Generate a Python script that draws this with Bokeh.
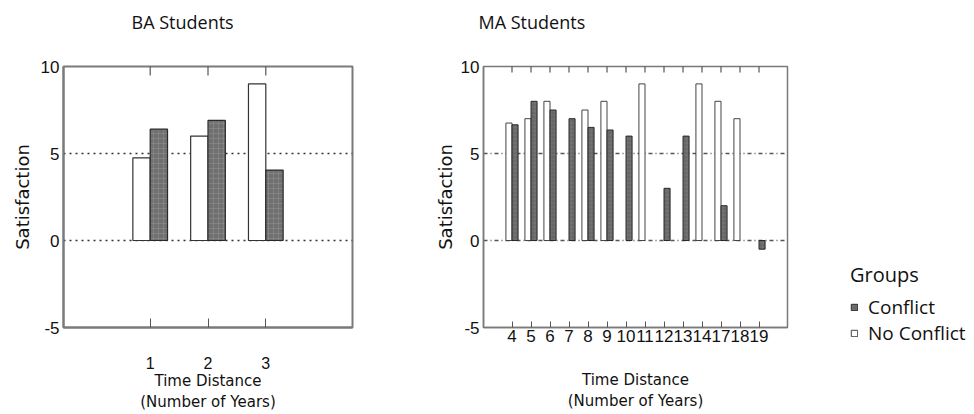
import math
from bokeh.plotting import figure
from bokeh.layouts import row, column
from bokeh.models import (ColumnDataSource, FactorRange, Range1d, FixedTicker,
                          CategoricalAxis, Legend, LegendItem, Spacer)
from bokeh.transform import dodge
from bokeh.embed import file_html
from bokeh.resources import INLINE

# ---------------- data ----------------
ba_years = ["1", "2", "3"]
ba_conflict = [6.4, 6.9, 4.05]
ba_no_conflict = [4.75, 6.0, 9.0]

ma_years = ["4", "5", "6", "7", "8", "9", "10", "11", "12", "13", "14", "17", "18", "19"]
ma_conflict = [6.65, 8.0, 7.5, 7.0, 6.5, 6.35, 6.0, None, 3.0, 6.0, None, 2.0, None, -0.5]
ma_no_conflict = [6.75, 7.0, 8.0, None, 7.5, 8.0, None, 9.0, None, None, 9.0, 8.0, 7.0, None]

y_ticks = [-5, 0, 5, 10]
grid_ticks = [0, 5]
x_title = "Time Distance\n(Number of Years)"
y_title = "Satisfaction"
groups = ["Conflict", "No Conflict"]

DARK = "#707070"
FRAME = "#7a7a7a"
TOP_BORDER = 66
BOTTOM_BORDER = 84


def source(cats, vals):
    xs = [c for c, v in zip(cats, vals) if v is not None]
    ys = [v for v in vals if v is not None]
    return ColumnDataSource(dict(x=xs, top=ys))


def style(p, cats, title_offset, tick_font, xstand, xlab_stand,
          ylab_stand, tick_len, grid_dash, grid_color, frame_w):
    p.title.text_font = "Open Sans"
    p.title.text_font_size = "18px"
    p.title.text_font_style = "normal"
    p.title.text_color = "#111111"
    p.title.align = "left"
    p.title.offset = title_offset
    p.title.standoff = 0
    p.outline_line_color = FRAME
    p.outline_line_width = frame_w
    p.xgrid.visible = False
    p.ygrid.ticker = FixedTicker(ticks=grid_ticks)
    p.ygrid.grid_line_color = grid_color
    p.ygrid.grid_line_dash = grid_dash
    p.ygrid.grid_line_width = 1.3
    p.yaxis.ticker = FixedTicker(ticks=y_ticks)
    p.yaxis.major_label_overrides = {t: str(t) for t in y_ticks}
    for ax in (p.xaxis[0], p.yaxis[0]):
        ax.axis_line_color = FRAME
        ax.axis_line_width = frame_w
        ax.major_label_text_font = "Liberation Sans"
        ax.major_label_text_color = "#111111"
        ax.axis_label_text_font = "DejaVu Sans"
        ax.axis_label_text_font_style = "normal"
        ax.axis_label_text_color = "#111111"
        ax.minor_tick_line_color = None
    p.yaxis.major_tick_out = 0
    p.yaxis.major_tick_in = 0
    p.yaxis.major_label_standoff = 4
    p.yaxis.major_label_text_font_size = "17px"
    p.yaxis.axis_label = y_title
    p.yaxis.axis_label_text_font_size = "18px"
    p.yaxis.axis_label_standoff = ylab_stand
    p.xaxis.major_tick_out = 0
    p.xaxis.major_tick_in = tick_len
    p.xaxis.major_tick_line_color = "#555555"
    p.xaxis.major_label_text_font_size = tick_font
    p.xaxis.major_label_standoff = xstand
    p.xaxis.axis_label = x_title
    p.xaxis.axis_label_text_font_size = "15px"
    p.xaxis.axis_label_text_line_height = 1.2
    p.xaxis.axis_label_standoff = xlab_stand
    # mirrored tick marks along the top edge of the frame
    p.scatter(x=cats, y=[y_ticks[-1]] * len(cats), marker="dash",
              angle=math.pi / 2, size=2 * tick_len,
              line_color="#555555", line_width=1.2)
    # undrawn top axis: only reserves a band between the title and the frame
    p.add_layout(CategoricalAxis(major_tick_out=33, major_tick_in=0,
                                 major_label_standoff=0,
                                 major_label_text_font_size="10px",
                                 major_label_text_color=None,
                                 axis_line_color=None, major_tick_line_color=None,
                                 minor_tick_line_color=None), "above")


# ---------------- BA panel ----------------
p1 = figure(x_range=FactorRange(factors=ba_years, range_padding=1.0,
                                range_padding_units="absolute"),
            y_range=Range1d(-5, 10), width=420, height=414,
            output_backend="svg", toolbar_location=None,
            min_border_left=63, min_border_right=68,
            min_border_top=TOP_BORDER, min_border_bottom=BOTTOM_BORDER,
            title="BA Students")
style(p1, ba_years, 68, "16px", 29, 0, 5, 9, "2 4", "#333333", 2)

ba_no_src = source(ba_years, ba_no_conflict)
ba_c_src = source(ba_years, ba_conflict)
p1.vbar(x=dodge("x", -0.15, range=p1.x_range), top="top", bottom=0, width=0.3,
        source=ba_no_src, fill_color="white", line_color="#333333", line_width=1.2)
p1.vbar(x=dodge("x", 0.15, range=p1.x_range), top="top", bottom=0, width=0.3,
        source=ba_c_src, fill_color=DARK, line_color="#2a2a2a", line_width=1.2,
        hatch_pattern="cross", hatch_color="#a0a0a0", hatch_alpha=0.6,
        hatch_scale=5, hatch_weight=0.6)

# ---------------- MA panel ----------------
p2 = figure(x_range=FactorRange(factors=ma_years, range_padding=1.0,
                                range_padding_units="absolute"),
            y_range=Range1d(-5, 10), width=377, height=414,
            output_backend="svg", toolbar_location=None,
            min_border_left=63, min_border_right=10,
            min_border_top=TOP_BORDER, min_border_bottom=BOTTOM_BORDER,
            title="MA Students")
style(p2, ma_years, -5, "17px", 2, 26, 2, 6, "4 3 1 3", "#555555", 1.5)

ma_no_src = source(ma_years, ma_no_conflict)
ma_c_src = source(ma_years, ma_conflict)
no_style = dict(fill_color="white", line_color="#444444", line_width=1)
c_style = dict(fill_color="#666666", line_color="#2a2a2a", line_width=1,
               hatch_pattern="cross", hatch_color="#999999", hatch_alpha=0.5,
               hatch_scale=4, hatch_weight=0.5)
p2.vbar(x=dodge("x", -0.16, range=p2.x_range), top="top", bottom=0, width=0.32,
        source=ma_no_src, **no_style)
p2.vbar(x=dodge("x", 0.16, range=p2.x_range), top="top", bottom=0, width=0.32,
        source=ma_c_src, **c_style)

# ---------------- legend panel ----------------
p3 = figure(x_range=FactorRange(factors=ma_years), y_range=Range1d(-5, 10),
            width=177, height=398, output_backend="svg", toolbar_location=None,
            x_axis_location=None, y_axis_location=None,
            min_border_left=0, min_border_right=0,
            min_border_top=50, min_border_bottom=52,
            outline_line_color=None)
p3.grid.visible = False
leg_c = p3.vbar(x="x", top="top", bottom=0, width=0.32, source=ma_c_src,
                visible=False, **c_style)
leg_no = p3.vbar(x="x", top="top", bottom=0, width=0.32, source=ma_no_src,
                 visible=False, **no_style)

legend = Legend(items=[LegendItem(label=groups[0], renderers=[leg_c]),
                       LegendItem(label=groups[1], renderers=[leg_no])],
                location=(53, 16), title="Groups",
                title_text_font="Open Sans", title_text_font_size="20px",
                title_text_font_style="normal", title_standoff=6,
                title_text_color="#111111",
                label_text_font="Open Sans", label_text_font_size="19px",
                label_text_color="#111111", label_height=18,
                label_standoff=10, glyph_width=8, glyph_height=8,
                spacing=0, padding=0, margin=0,
                border_line_color=None, background_fill_alpha=0)
p3.add_layout(legend)

layout = row(p1, p2, column(Spacer(width=177, height=16), p3))
open("out.html", "w").write(file_html(layout, INLINE))
